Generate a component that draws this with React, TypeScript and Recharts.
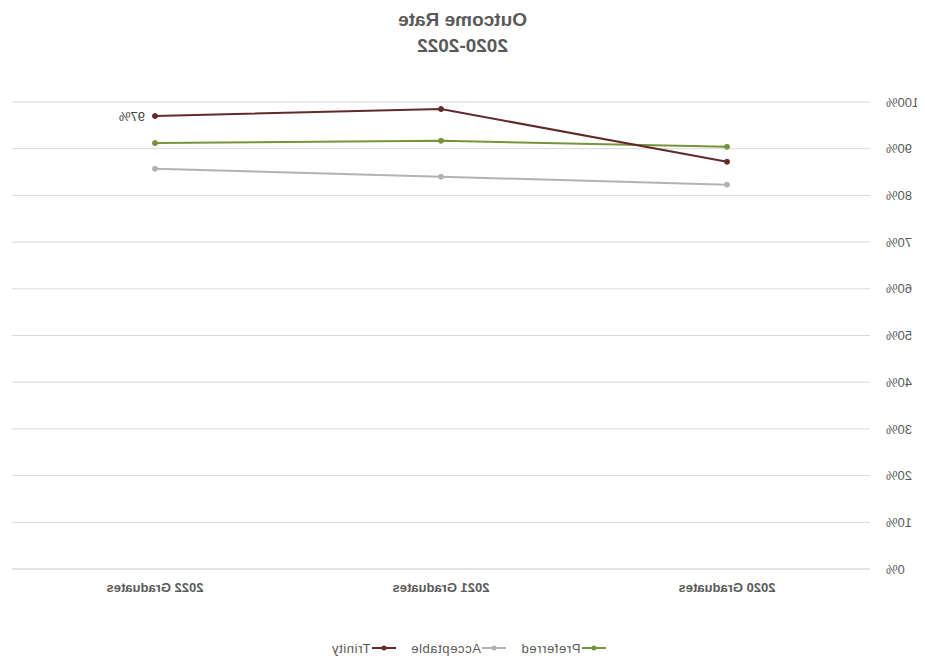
import React from "react";
import { LineChart, Line, XAxis, YAxis, CartesianGrid, Legend } from "recharts";

const categories = ["2020 Graduates", "2021 Graduates", "2022 Graduates"];
const trinity = [87.2, 98.5, 97.0];
const preferred = [90.4, 91.7, 91.2];
const acceptable = [82.3, 84.0, 85.7];
const yTicks = [0, 10, 20, 30, 40, 50, 60, 70, 80, 90, 100];
const titleLines = ["Outcome Rate", "2020-2022"];

const data = categories.map((c, i) => ({
  name: c,
  Preferred: preferred[i],
  Acceptable: acceptable[i],
  Trinity: trinity[i],
}));

const series = [
  { key: "Preferred", color: "#77933C" },
  { key: "Acceptable", color: "#B3B3B3" },
  { key: "Trinity", color: "#632A2A" },
];

const FONT = "'Liberation Sans', Arial, sans-serif";

const LegendContent = () => (
  <div style={{ display: "flex", justifyContent: "center", gap: 15, fontFamily: FONT, fontSize: 13, letterSpacing: 0.6, color: "#595959", height: 16 }}>
    {series.map((s) => (
      <div key={s.key} style={{ display: "flex", alignItems: "center" }}>
        <svg width={24} height={10} style={{ marginRight: 1 }}>
          <line x1={0} y1={5} x2={24} y2={5} stroke={s.color} strokeWidth={2} />
          <circle cx={12} cy={5} r={2.5} fill={s.color} />
        </svg>
        <span>{s.key}</span>
      </div>
    ))}
  </div>
);

const TrinityLabel = (props: any) => {
  const { x, y, index, value } = props;
  if (index !== 2) return null;
  return (
    <text x={x + 10} y={y} dy={5} textAnchor="start" fontFamily={FONT} fontSize={13} fill="#404040">
      {`${Math.round(value)}%`}
    </text>
  );
};

export default function App() {
  return (
    <div style={{ margin: -8, width: 925, height: 671, position: "relative", transform: "scaleX(-1)", background: "#fff" }}>
      <div style={{ position: "absolute", top: 7, left: 0, width: 925, textAlign: "center", fontFamily: FONT, fontWeight: "bold", fontSize: 19, color: "#595959", lineHeight: "26px" }}>
        {titleLines.map((t) => (
          <div key={t}>{t}</div>
        ))}
      </div>
      <LineChart width={925} height={671} data={data} margin={{ top: 102, right: 12, bottom: 56, left: 0 }}>
        <CartesianGrid vertical={false} stroke="#D9D9D9" />
        <XAxis
          dataKey="name"
          padding={{ left: 143, right: 143 }}
          axisLine={{ stroke: "#D9D9D9" }}
          tickLine={false}
          tick={{ fontFamily: FONT, fontSize: 13, fontWeight: "bold", fill: "#595959" }}
          tickMargin={8}
        />
        <YAxis
          width={55}
          domain={[0, 100]}
          ticks={yTicks}
          axisLine={false}
          tickLine={false}
          tickFormatter={(v) => `${v}%`}
          tick={{ fontFamily: FONT, fontSize: 13, fill: "#595959" }}
          tickMargin={10}
        />
        <Legend verticalAlign="bottom" content={LegendContent} wrapperStyle={{ bottom: 15 }} />
        {series.map((s) => (
          <Line
            key={s.key}
            dataKey={s.key}
            stroke={s.color}
            strokeWidth={2}
            dot={{ r: 2.5, fill: s.color, stroke: s.color, strokeWidth: 1 }}
            activeDot={false}
            isAnimationActive={false}
            label={s.key === "Trinity" ? TrinityLabel : false}
          />
        ))}
      </LineChart>
    </div>
  );
}
